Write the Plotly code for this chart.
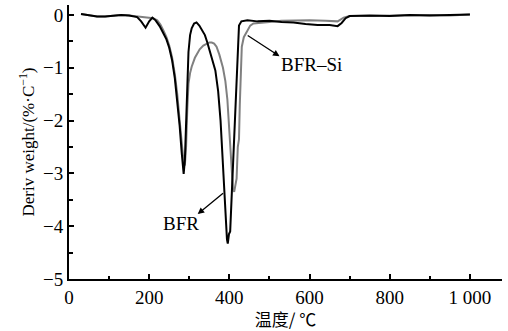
import plotly.graph_objects as go

# BFR (black)
t_bfr = [30, 50, 70, 90, 110, 130, 150, 170, 180, 191, 200, 208, 216, 226, 235, 243, 250, 257, 264,
         270, 276, 281, 286, 289, 292, 295, 298, 302, 306, 312, 318, 325, 332, 339, 345, 351, 358,
         365, 372, 378, 383, 387, 391, 394, 396, 399, 402, 406, 410, 414, 418, 421, 424, 430, 445,
         470, 500, 530, 560, 590, 620, 650, 670, 680, 690, 700, 750, 800, 850, 900, 950, 1000]
d_bfr = [0.02, -0.01, -0.03, -0.03, -0.02, 0.00, -0.01, -0.04, -0.12, -0.24, -0.12, -0.05, -0.10,
         -0.21, -0.34, -0.46, -0.62, -0.85, -1.20, -1.60, -2.10, -2.60, -3.01, -2.75, -2.10, -1.30,
         -0.70, -0.38, -0.25, -0.16, -0.14, -0.20, -0.30, -0.38, -0.52, -0.68, -0.86, -1.05, -1.44,
         -2.00, -2.70, -3.33, -3.90, -4.25, -4.33, -4.15, -4.10, -3.40, -2.70, -2.00, -1.30, -0.50,
         -0.20, -0.12, -0.10, -0.12, -0.11, -0.13, -0.14, -0.17, -0.19, -0.19, -0.21, -0.15, -0.06,
         -0.02, -0.01, -0.02, 0.00, -0.01, 0.00, 0.01]

# BFR-Si (gray)
t_si = [30, 50, 70, 90, 110, 130, 150, 170, 190, 210, 220, 228, 236, 243, 250, 257, 264, 270, 276,
        281, 286, 289, 292, 295, 298, 302, 306, 314, 320, 326, 335, 343, 350, 356, 362, 368, 375,
        384, 390, 395, 400, 405, 409, 412, 415, 418, 421, 424, 426, 428, 431, 436, 443, 452, 460,
        480, 500, 530, 560, 600, 640, 670, 685, 700, 750, 800, 850, 900, 950, 1000]
d_si = [0.02, -0.01, -0.03, -0.03, -0.02, 0.00, -0.01, -0.03, -0.05, -0.06, -0.10, -0.18, -0.30,
        -0.42, -0.58, -0.80, -1.12, -1.50, -2.00, -2.45, -2.80, -2.85, -2.50, -1.80, -1.30, -1.10,
        -0.98, -0.81, -0.72, -0.65, -0.58, -0.54, -0.52, -0.52, -0.54, -0.60, -0.75, -1.00, -1.25,
        -1.60, -2.20, -2.90, -3.30, -3.35, -3.20, -3.10, -2.50, -2.35, -1.70, -1.00, -0.60, -0.42,
        -0.32, -0.20, -0.16, -0.15, -0.13, -0.11, -0.10, -0.10, -0.11, -0.12, -0.05, -0.02, -0.02,
        -0.01, -0.01, 0.00, -0.01, 0.01]

x_ticks = [0, 200, 400, 600, 800, 1000]
x_ticktext = ["0", "200", "400", "600", "800", "1 000"]
x_minor = [100, 300, 500, 700, 900]
y_ticks = [0, -1, -2, -3, -4, -5]
y_ticktext = ["0", "\u22121", "\u22122", "\u22123", "\u22124", "\u22125"]
y_minor = [-0.5, -1.5, -2.5, -3.5, -4.5]

SERIF = "Liberation Serif"

fig = go.Figure()
fig.add_trace(go.Scatter(x=t_si, y=d_si, mode="lines", line=dict(color="#808080", width=2),
                         showlegend=False))
fig.add_trace(go.Scatter(x=t_bfr, y=d_bfr, mode="lines", line=dict(color="#000000", width=2),
                         showlegend=False))

# labels
fig.add_annotation(x=605, y=-0.93, text="BFR\u2013Si", showarrow=False,
                   font=dict(family=SERIF, size=19, color="black"))
fig.add_annotation(x=525, y=-0.78, ax=442, ay=-0.37, axref="x", ayref="y", text="",
                   showarrow=True, arrowhead=2, arrowsize=1, arrowwidth=1.3, arrowcolor="black")
fig.add_annotation(x=279, y=-3.94, text="BFR", showarrow=False,
                   font=dict(family=SERIF, size=19, color="black"))
fig.add_annotation(x=321, y=-3.77, ax=388, ay=-3.35, axref="x", ayref="y", text="",
                   showarrow=True, arrowhead=2, arrowsize=1, arrowwidth=1.3, arrowcolor="black")

tickfont = dict(family=SERIF, size=19, color="black")

fig.update_layout(
    width=508, height=331,
    margin=dict(l=69, r=6, t=5, b=52),
    plot_bgcolor="white", paper_bgcolor="white",
    font=dict(family=SERIF, size=19, color="black"),
    xaxis=dict(range=[0, 1080], showgrid=False, zeroline=False, showline=True,
               linecolor="black", linewidth=2, ticks="inside", ticklen=5, tickwidth=1.5,
               tickcolor="black", tickvals=x_ticks, ticktext=x_ticktext, tickfont=tickfont,
               minor=dict(tickvals=x_minor, ticks="inside", ticklen=3, tickwidth=1.5,
                          tickcolor="black"),
               title=dict(text="温度/ ℃",
                          font=dict(family="Noto Sans CJK SC", size=17), standoff=0)),
    yaxis=dict(range=[-5, 0.19], showgrid=False, zeroline=False, showline=True,
               linecolor="black", linewidth=2, ticks="inside", ticklen=5, tickwidth=1.5,
               tickcolor="black", tickvals=y_ticks, ticktext=y_ticktext, tickfont=tickfont,
               minor=dict(tickvals=y_minor, ticks="inside", ticklen=4, tickwidth=1.5,
                          tickcolor="black"),
               title=dict(text="Deriv weight/(%\u00b7C<sup>\u22121</sup>)",
                          font=dict(family=SERIF, size=17), standoff=4)),
)

fig.write_html("out.html", config={"displayModeBar": False},
               post_script="document.body.style.margin='0';")
